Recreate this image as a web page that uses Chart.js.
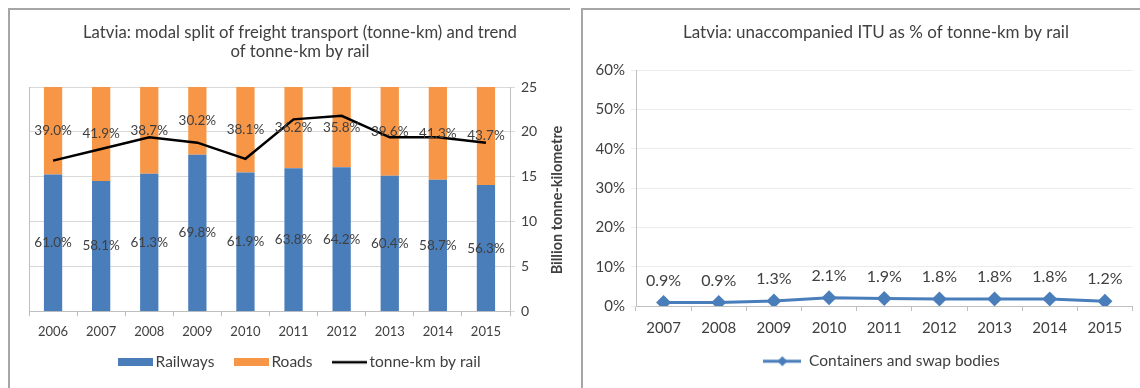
<!DOCTYPE html>
<html>
<head>
<meta charset="utf-8">
<script src="https://cdn.jsdelivr.net/npm/chart.js@4.4.1/dist/chart.umd.min.js"></script>
<style>
  html, body { margin: 0; padding: 0; background: #fff; overflow: hidden; }
  body { width: 1140px; height: 388px; position: relative; font-family: Lato, sans-serif; }
  .panel { position: absolute; border-top: 2px solid #a6a6a6; border-left: 2px solid #a6a6a6; }
  #p1 { left: 8px; top: 8px; width: 560px; height: 380px; }
  #p2 { left: 581px; top: 8px; width: 559px; height: 380px; }
  canvas { position: absolute; }
  #modalChart { left: 10px; top: 10px; }
  #ituChart { left: 583px; top: 10px; }
</style>
</head>
<body>
<div class="panel" id="p1"></div>
<div class="panel" id="p2"></div>
<canvas id="modalChart" width="558" height="378"></canvas>
<canvas id="ituChart" width="557" height="378"></canvas>
<script>
  /* ========= Data ========= */
  const modalYears = ["2006", "2007", "2008", "2009", "2010", "2011", "2012", "2013", "2014", "2015"];
  const railShare = [61.0, 58.1, 61.3, 69.8, 61.9, 63.8, 64.2, 60.4, 58.7, 56.3];
  const roadShare = [39.0, 41.9, 38.7, 30.2, 38.1, 36.2, 35.8, 39.6, 41.3, 43.7];
  const railTkm = [16.8, 18.1, 19.4, 18.8, 17.0, 21.4, 21.8, 19.4, 19.4, 18.8];
  const tkmTicks = [0, 5, 10, 15, 20, 25];

  const ituYears = ["2007", "2008", "2009", "2010", "2011", "2012", "2013", "2014", "2015"];
  const ituShare = [0.9, 0.9, 1.3, 2.1, 1.9, 1.8, 1.8, 1.8, 1.2];
  const pctTicks = [0, 10, 20, 30, 40, 50, 60];

  const BLUE = "#4a7ebb";
  const ORANGE = "#f79646";
  const TEXT = "#404040";
  const AXIS = "#bfbfbf";

  /* ========= Legend icons ========= */
  function boxIcon(color, w, h) {
    const c = document.createElement("canvas");
    c.width = w; c.height = h;
    const g = c.getContext("2d");
    g.fillStyle = color;
    g.fillRect(0, 0, w, h);
    return c;
  }
  function lineIcon(color, w, lw, r) {
    const c = document.createElement("canvas");
    c.width = w; c.height = 2 * (r || 2) + 2;
    const g = c.getContext("2d");
    const cy = c.height / 2;
    g.strokeStyle = color;
    g.lineWidth = lw;
    g.beginPath(); g.moveTo(0, cy); g.lineTo(w, cy); g.stroke();
    if (r) {
      // diamond marker in the middle
      g.fillStyle = color;
      g.beginPath();
      g.moveTo(w / 2, cy - r); g.lineTo(w / 2 + r, cy);
      g.lineTo(w / 2, cy + r); g.lineTo(w / 2 - r, cy);
      g.closePath(); g.fill();
    }
    return c;
  }

  /* ========= Plugins ========= */
  // percent labels: centred in bar segments or above line points
  const valueLabels = {
    id: "valueLabels",
    afterDatasetsDraw(chart, args, opts) {
      const ctx = chart.ctx;
      ctx.save();
      ctx.font = opts.font;
      ctx.fillStyle = opts.color;
      ctx.textAlign = "center";
      ctx.textBaseline = "middle";
      chart.data.datasets.forEach((ds, i) => {
        if (!ds.valueLabels) return;
        chart.getDatasetMeta(i).data.forEach((el, j) => {
          const txt = ds.data[j].toFixed(1) + "%";
          if (ds.valueLabels === "center") {
            ctx.fillText(txt, el.x, (el.y + el.base) / 2);
          } else {
            ctx.fillText(txt, el.x, el.y - opts.offset);
          }
        });
      });
      ctx.restore();
    }
  };

  // Excel centres title and legend a little right of the canvas middle
  const shiftBlocks = {
    id: "shiftBlocks",
    afterUpdate(chart, args, opts) {
      if (chart.titleBlock && opts.title) {
        chart.titleBlock.left += opts.title;
        chart.titleBlock.right += opts.title;
      }
      if (chart.legend && opts.legend) {
        chart.legend.left += opts.legend;
        chart.legend.right += opts.legend;
        chart.legend.adjustHitBoxes();
      }
    }
  };

  // right-hand axis title reading bottom to top, as in Excel
  const sideTitle = {
    id: "sideTitle",
    afterDraw(chart, args, opts) {
      if (!opts.text) return;
      const ctx = chart.ctx;
      ctx.save();
      ctx.translate(opts.x, opts.y);
      ctx.rotate(-Math.PI / 2);
      ctx.font = opts.font;
      ctx.fillStyle = opts.color;
      ctx.textAlign = "center";
      ctx.textBaseline = "middle";
      ctx.fillText(opts.text, 0, 0);
      ctx.restore();
    }
  };

  Chart.defaults.font.family = "Lato, sans-serif";
  Chart.defaults.color = TEXT;

  /* ========= Left: modal split ========= */
  new Chart(document.getElementById("modalChart"), {
    type: "bar",
    data: {
      labels: modalYears,
      datasets: [
        {
          label: "Railways",
          data: railShare,
          backgroundColor: BLUE,
          pointStyle: boxIcon(BLUE, 35, 8),
          yAxisID: "y",
          order: 1,
          valueLabels: "center"
        },
        {
          label: "Roads",
          data: roadShare,
          backgroundColor: ORANGE,
          pointStyle: boxIcon(ORANGE, 35, 8),
          yAxisID: "y",
          order: 1,
          valueLabels: "center"
        },
        {
          type: "line",
          label: "tonne-km by rail",
          data: railTkm,
          borderColor: "#000",
          backgroundColor: "#000",
          borderWidth: 2.5,
          pointRadius: 0,
          pointStyle: lineIcon("#000", 35, 2.5),
          tension: 0,
          yAxisID: "y1",
          order: 0
        }
      ]
    },
    options: {
      responsive: false,
      animation: false,
      layout: { padding: { left: 19, right: 0, top: 0, bottom: 8 } },
      datasets: { bar: { barPercentage: 0.38, categoryPercentage: 1 } },
      plugins: {
        title: {
          display: true,
          text: ["Latvia: modal split of freight transport (tonne-km) and trend", "of tonne-km by rail"],
          color: TEXT,
          font: { size: 16.7, weight: "normal", lineHeight: 1.14 },
          padding: { top: 13, bottom: 26 }
        },
        legend: {
          position: "bottom",
          labels: {
            usePointStyle: true,
            pointStyleWidth: 24.5,
            boxHeight: 8,
            padding: 24.75,
            color: TEXT,
            font: { size: 15.5 },
            sort: (a, b) => a.datasetIndex - b.datasetIndex
          }
        },
        tooltip: { enabled: false },
        valueLabels: { font: "13.5px Lato, sans-serif", color: TEXT },
        shiftBlocks: { title: 1.5, legend: 3.5 },
        sideTitle: { text: "Billion tonne-kilometre", x: 547, y: 190, font: "bold 14.5px Lato, sans-serif", color: TEXT }
      },
      scales: {
        x: {
          stacked: true,
          grid: { offset: true, drawOnChartArea: false, tickLength: 5, color: AXIS },
          border: { color: AXIS },
          ticks: { color: TEXT, font: { size: 13 }, padding: 8 },
          afterFit(axis) {
            axis.height = 18.5;
            axis._computeLabelArea = () => null; // let year labels spill into the legend band
          }
        },
        y: {
          stacked: true,
          position: "left",
          min: 0,
          max: 100,
          ticks: { display: false },
          grid: { display: false },
          border: { color: AXIS },
          afterFit(axis) { axis.width = 0; }
        },
        y1: {
          position: "right",
          min: tkmTicks[0],
          max: tkmTicks[tkmTicks.length - 1],
          ticks: { stepSize: tkmTicks[1] - tkmTicks[0], color: TEXT, font: { size: 14 }, padding: 6 },
          grid: { color: "#d9d9d9", tickLength: 5 },
          border: { color: AXIS },
          afterFit(axis) { axis.width = 58; }
        }
      }
    },
    plugins: [valueLabels, shiftBlocks, sideTitle]
  });

  /* ========= Right: unaccompanied ITU ========= */
  new Chart(document.getElementById("ituChart"), {
    type: "line",
    data: {
      labels: ituYears,
      datasets: [{
        label: "Containers and swap bodies",
        data: ituShare,
        borderColor: BLUE,
        backgroundColor: BLUE,
        borderWidth: 3,
        pointStyle: "rectRot",
        pointRadius: 7.5,
        pointBorderWidth: 0,
        tension: 0,
        valueLabels: "above"
      }]
    },
    options: {
      responsive: false,
      animation: false,
      layout: { padding: { left: 0, right: 6, top: 0, bottom: 9 } },
      plugins: {
        title: {
          display: true,
          text: "Latvia: unaccompanied ITU as % of tonne-km by rail",
          color: TEXT,
          font: { size: 17, weight: "normal", lineHeight: 1.12 },
          padding: { top: 13, bottom: 28 }
        },
        legend: {
          position: "bottom",
          labels: {
            usePointStyle: true,
            pointStyle: lineIcon(BLUE, 38, 3, 5),
            pointStyleWidth: 38,
            boxHeight: 8,
            color: TEXT,
            font: { size: 15.5 }
          }
        },
        tooltip: { enabled: false },
        valueLabels: { font: "16px Lato, sans-serif", color: TEXT, offset: 22 },
        shiftBlocks: { title: 17.5, legend: 23 }
      },
      scales: {
        x: {
          offset: true,
          grid: { offset: true, drawOnChartArea: false, tickLength: 5, color: AXIS },
          border: { color: AXIS },
          ticks: { color: TEXT, font: { size: 15 }, padding: 8 },
          afterFit(axis) { axis.height = 37.5; }
        },
        y: {
          min: pctTicks[0],
          max: pctTicks[pctTicks.length - 1],
          ticks: {
            stepSize: pctTicks[1] - pctTicks[0],
            color: TEXT,
            font: { size: 15 },
            padding: 6,
            callback: (v) => v + "%"
          },
          grid: { color: "#ececec", tickLength: 5 },
          border: { color: AXIS },
          afterFit(axis) { axis.width = 53; }
        }
      }
    },
    plugins: [valueLabels, shiftBlocks]
  });
</script>
</body>
</html>
